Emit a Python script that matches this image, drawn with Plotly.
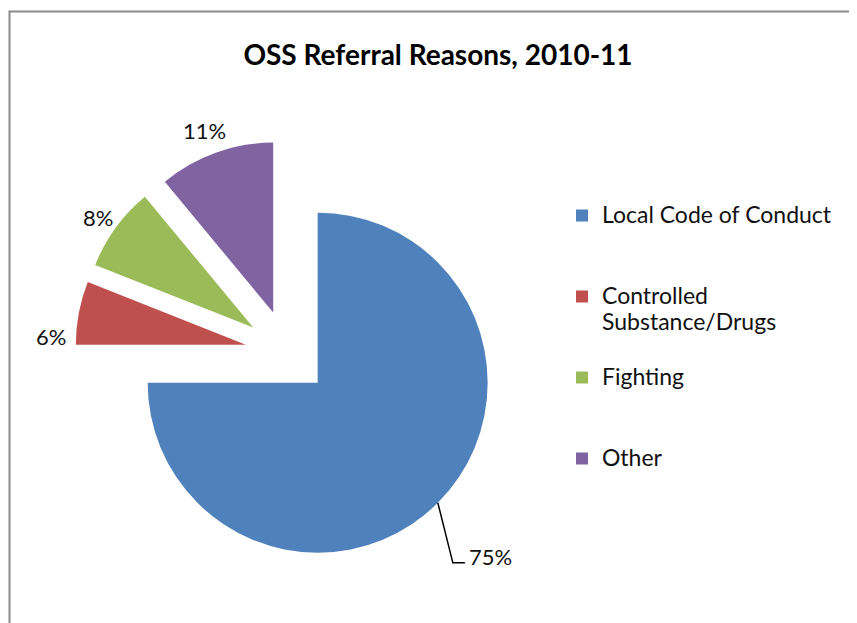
import math
import plotly.graph_objects as go

# ---- data ----
categories = ["Local Code of Conduct", "Controlled Substance/Drugs", "Fighting", "Other"]
legend_text = ["Local Code of Conduct", "Controlled<br>Substance/Drugs", "Fighting", "Other"]
values = [75, 6, 8, 11]
pct_text = ["75%", "6%", "8%", "11%"]
colors = ["#4F81BD", "#C0504D", "#9BBB59", "#8064A2"]
title_text = "OSS Referral Reasons, 2010-11"

# ---- geometry (target-image pixels) ----
OFF = 8                 # default page margin around the plot div
W, H = 857 - OFF, 623 - OFF
CX, CY = 287.6, 352.6   # pie centre
R = 170                 # pie radius
PULL = 0.25             # explosion as fraction of radius
FONT = "Lato"
TXT = "#111111"


def px(x):
    return (x - OFF) / W


def py(y):
    return 1 - (y - OFF) / H


half = R * (1 + PULL)
dom_x = [px(CX - half), px(CX + half)]
dom_y = [py(CY + half), py(CY - half)]

# legend entries padded to equal height (3 lines each); visible text slightly larger
LINES = 3
padded = []
for t in legend_text:
    n = t.count("<br>") + 1
    shown = "<br>".join(f'<span style="font-size:23px">{p}</span>' for p in t.split("<br>"))
    padded.append(shown + "<br> " * (LINES - n))

fig = go.Figure()
fig.add_trace(go.Pie(
    labels=padded,
    values=values,
    marker=dict(colors=colors, line=dict(width=0)),
    pull=[PULL] * len(values),
    sort=False,
    direction="clockwise",
    rotation=0,
    textinfo="none",
    hoverinfo="skip",
    domain=dict(x=dom_x, y=dom_y),
))

# ---- data labels, computed from slice mid-angles ----
total = sum(values)
label_shift = [None, (-28, 24), (-18, -10), (-11, -22)]  # pixel nudges (screen dx, dy)
annotations = []
shapes = []
cum = 0
for i, v in enumerate(values):
    mid = (cum + v / 2) / total * 2 * math.pi
    cum += v
    mx = CX + R * (1 + PULL) * math.sin(mid)
    my = CY - R * (1 + PULL) * math.cos(mid)
    if label_shift[i] is None:
        # leader line with elbow
        ex, ey = mx + 15, my + 60
        fx, fy = mx + 27, my + 60
        shapes.append(dict(
            type="path", xref="paper", yref="paper",
            path=f"M {px(mx)},{py(my)} L {px(ex)},{py(ey)} L {px(fx)},{py(fy)}",
            line=dict(color="black", width=1.5),
        ))
        annotations.append(dict(
            x=px(fx + 2), y=py(my + 54), xref="paper", yref="paper",
            text=pct_text[i], showarrow=False, xanchor="left", yanchor="middle",
            font=dict(family=FONT, size=22, color=TXT),
        ))
    else:
        dx, dy = label_shift[i]
        annotations.append(dict(
            x=px(mx + dx), y=py(my + dy), xref="paper", yref="paper",
            text=pct_text[i], showarrow=False, xanchor="center", yanchor="middle",
            font=dict(family=FONT, size=22, color=TXT),
        ))

# chart border (left and top visible)
shapes.append(dict(
    type="rect", xref="paper", yref="paper",
    x0=px(9.5), y0=-0.05, x1=1.05, y1=py(11.5),
    line=dict(color="#8a8a8a", width=2),
))

fig.update_layout(
    width=W, height=H,
    margin=dict(l=0, r=0, t=0, b=0),
    paper_bgcolor="white",
    plot_bgcolor="white",
    title=dict(
        text="<b>" + title_text + "</b>",
        x=px(438), xanchor="center",
        y=py(55), yanchor="middle", yref="container",
        font=dict(family=FONT, size=28, color="black"),
    ),
    showlegend=True,
    legend=dict(
        x=px(562), xanchor="left",
        y=py(196), yanchor="top",
        font=dict(family=FONT, size=20, color=TXT),
        valign="top",
        bgcolor="rgba(0,0,0,0)",
    ),
    annotations=annotations,
    shapes=shapes,
)

fig.write_html("out.html")
